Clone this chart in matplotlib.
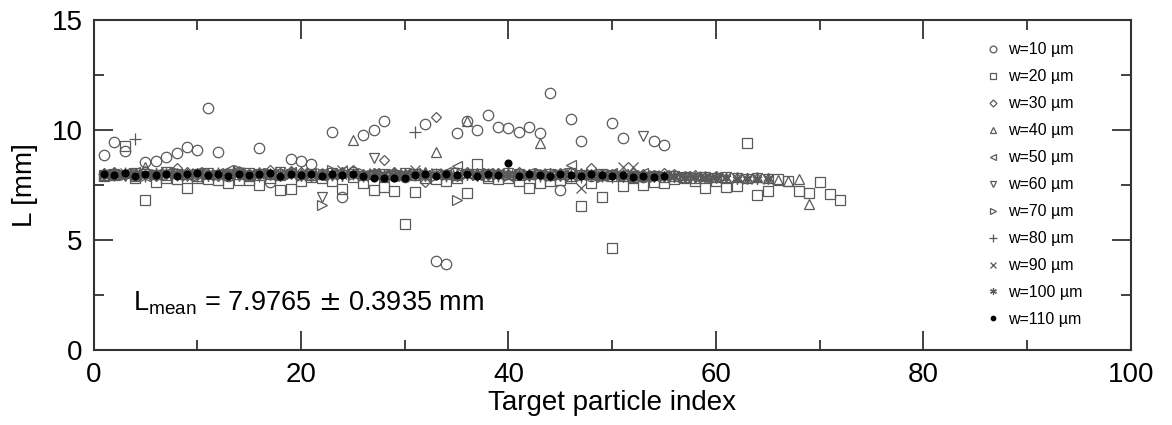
import numpy as np
import matplotlib
matplotlib.use("Agg")
import matplotlib.pyplot as plt

plt.rcParams['font.family'] = ['Liberation Sans', 'DejaVu Sans']

# L [mm] per target particle index, one list per width w
w10 = [8.85, 9.45, 9.05, 7.95, 8.55, 8.6, 8.75, 8.93, 9.23, 9.08, 10.97, 8.98, 7.9, 8.1, 7.95,
       9.16, 7.65, 8.0, 8.7, 8.6, 8.45, 8.0, 9.92, 6.97, 8.1, 9.76, 10.0, 10.4, 7.9, 7.85,
       7.95, 10.25, 4.05, 3.9, 9.85, 10.4, 10.0, 10.67, 10.14, 10.1, 9.92, 10.14, 9.87, 11.65, 7.27,
       10.47, 9.49, 7.9, 7.95, 10.29, 9.61, 7.9, 7.85, 9.49, 9.31]
w20 = [7.9, 7.95, 9.25, 7.8, 6.82, 7.65, 7.8, 7.75, 7.38, 7.8, 7.75, 7.73, 7.6, 7.73, 7.73,
       7.5, 7.8, 7.27, 7.3, 7.7, 7.85, 7.8, 7.7, 7.3, 7.85, 7.6, 7.27, 7.4, 7.22, 5.73,
       7.2, 7.8, 7.75, 7.7, 7.8, 7.12, 8.45, 7.8, 7.75, 7.8, 7.7, 7.35, 7.57, 7.7, 7.73,
       7.8, 6.55, 7.57, 6.94, 4.66, 7.45, 7.8, 7.5, 7.65, 7.57, 7.75, 7.8, 7.7, 7.35, 7.7,
       7.42, 7.45, 9.39, 7.05, 7.24, 7.75, 7.7, 7.23, 7.12, 7.62, 7.09, 6.82]
w30 = [8.05, 8.1, 7.95, 8.0, 8.15, 7.9, 8.0, 8.25, 8.1, 7.95, 8.0, 7.9, 8.05, 8.1, 8.0,
       7.95, 8.2, 8.05, 8.15, 8.1, 7.9, 8.0, 7.95, 8.1, 8.2, 8.0, 8.05, 8.63, 8.1, 7.95,
       8.0, 7.65, 10.6, 8.0, 7.9, 8.1, 8.0, 7.95, 8.05, 8.0, 8.1, 7.95, 8.0, 7.9, 8.05,
       8.1, 8.0, 8.25, 7.95, 8.0, 7.9, 8.05, 8.0, 7.95, 8.05, 8.0, 7.9, 7.95, 7.85, 7.9]
w40 = [7.95, 8.0, 8.05, 7.9, 8.3, 8.0, 7.95, 8.05, 8.0, 7.9, 8.0, 8.05, 7.95, 8.0, 7.9,
       8.1, 8.0, 7.95, 8.1, 8.0, 7.95, 8.0, 8.05, 8.1, 9.54, 7.95, 8.0, 7.9, 8.05, 8.0,
       7.95, 8.1, 9.0, 8.0, 7.95, 10.4, 8.0, 7.9, 8.05, 8.0, 7.95, 8.0, 9.39, 7.95, 8.0,
       7.9, 8.05, 8.0, 7.95, 7.9, 8.0, 7.85, 7.9, 7.95, 7.85, 7.9, 7.85, 7.8, 7.9, 7.85,
       7.8, 7.85, 7.8, 7.85, 7.8, 7.72, 7.7, 7.75, 6.64]
w50 = [8.0, 7.95, 8.05, 8.1, 7.9, 8.0, 8.05, 7.95, 8.0, 8.1, 7.95, 8.05, 8.2, 8.0, 7.9,
       8.05, 8.0, 7.95, 8.1, 8.0, 8.05, 7.9, 8.0, 8.15, 8.0, 7.95, 8.05, 8.0, 7.9, 8.0,
       8.05, 7.95, 8.0, 8.1, 8.36, 8.0, 7.95, 8.05, 8.0, 7.9, 8.0, 8.05, 7.95, 8.0, 8.05,
       8.4, 7.95, 8.0, 7.9, 8.05, 8.0, 7.95, 8.03, 7.9, 7.95, 7.85, 7.9, 7.85, 7.8, 7.85]
w60 = [7.95, 8.0, 7.9, 8.05, 8.0, 7.95, 8.1, 8.0, 7.9, 8.0, 8.05, 7.95, 8.0, 7.9, 8.05,
       8.0, 7.95, 8.1, 8.0, 7.9, 8.0, 6.95, 8.05, 7.95, 8.0, 7.9, 8.72, 8.0, 7.95, 8.05,
       8.0, 7.9, 8.0, 7.95, 8.05, 8.0, 7.9, 8.0, 7.95, 8.05, 8.0, 7.9, 7.95, 8.0, 7.9,
       8.05, 7.95, 7.9, 8.0, 7.95, 7.9, 7.85, 9.72, 7.9, 7.85, 7.9, 7.85, 7.8, 7.85, 7.8,
       7.85, 7.8, 7.75, 7.8, 7.75]
w70 = [7.9, 8.0, 7.95, 8.05, 7.9, 8.0, 7.95, 8.1, 8.0, 7.9, 8.05, 7.95, 8.0, 8.2, 7.9,
       8.0, 8.05, 7.95, 8.0, 7.9, 8.05, 6.6, 8.18, 8.0, 7.95, 8.05, 8.0, 7.9, 8.0, 7.95,
       8.05, 8.0, 7.9, 7.95, 6.82, 8.0, 7.95, 8.05, 8.0, 7.9, 8.0, 7.95, 8.05, 7.9, 8.0,
       7.95, 7.9, 8.0, 7.85, 7.95, 7.9, 7.85, 7.9, 7.85, 7.9]
w80 = [8.0, 7.95, 8.05, 9.6, 7.9, 8.0, 8.05, 7.95, 8.0, 7.9, 8.0, 8.05, 7.95, 8.1, 8.0,
       7.9, 8.0, 7.95, 8.05, 8.0, 7.9, 8.0, 7.95, 8.05, 8.0, 7.9, 8.0, 7.95, 8.05, 8.0,
       9.9, 7.95, 8.0, 7.9, 8.05, 8.0, 7.95, 8.0, 7.9, 8.05, 8.0, 7.95, 7.9, 8.0, 7.95,
       7.9, 7.85, 7.95, 7.9, 7.85]
w90 = [7.95, 8.0, 8.05, 7.9, 8.0, 7.95, 8.1, 8.0, 7.9, 8.05, 8.0, 7.95, 8.0, 8.1, 7.9,
       8.0, 7.95, 8.05, 8.0, 7.9, 8.0, 8.05, 7.95, 8.2, 8.0, 7.9, 8.05, 8.0, 7.95, 8.0,
       8.2, 7.95, 8.05, 8.0, 7.9, 8.0, 7.95, 8.05, 8.0, 7.9, 8.0, 7.95, 8.05, 8.0, 7.95,
       7.9, 7.35, 7.95, 7.9, 8.0, 8.3, 8.3, 7.9, 7.95, 7.85, 7.9, 7.85, 7.9, 7.85, 7.8,
       7.85, 7.8, 7.75, 7.8, 7.75]
w100 = [8.0, 8.05, 7.95, 8.0, 7.9, 8.05, 8.0, 7.95, 8.0, 8.05, 7.9, 8.0, 7.95, 8.05, 8.0,
        7.95, 8.0, 7.9, 8.05, 8.0, 7.95, 8.0, 8.05, 7.9, 8.0, 7.95, 8.05, 8.0, 7.9, 8.0,
        7.95, 8.05, 8.0, 7.9, 8.0, 7.95, 8.05, 8.0, 7.9, 8.0, 7.95, 8.0, 7.9, 8.05, 7.95,
        8.0, 7.9, 7.95, 7.9, 7.95, 7.85, 7.9, 7.95, 7.85, 7.9, 7.85, 7.8, 7.85, 7.8, 7.85,
        7.8, 7.75, 7.8, 7.75, 7.8]
w110 = [8.0, 7.95, 8.05, 7.9, 8.0, 7.95, 8.0, 7.9, 8.0, 8.05, 7.95, 8.0, 7.9, 8.0, 7.95,
        8.0, 8.05, 7.9, 8.0, 7.95, 8.0, 7.9, 8.0, 7.95, 8.0, 7.9, 7.8, 7.8, 7.8, 7.8,
        7.95, 8.0, 7.9, 8.0, 7.95, 8.0, 7.9, 8.0, 7.95, 8.48, 7.9, 8.0, 7.95, 7.9, 8.0,
        7.95, 7.9, 8.0, 7.95, 7.9, 7.95, 7.85, 7.9, 7.85, 7.9]

series = [w10, w20, w30, w40, w50, w60, w70, w80, w90, w100, w110]
labels = ['w=10 \u00b5m', 'w=20 \u00b5m', 'w=30 \u00b5m', 'w=40 \u00b5m', 'w=50 \u00b5m',
          'w=60 \u00b5m', 'w=70 \u00b5m', 'w=80 \u00b5m', 'w=90 \u00b5m', 'w=100 \u00b5m',
          'w=110 \u00b5m']
markers = ['o', 's', 'D', '^', '<', 'v', '>', '+', 'x', (6, 2, 0), 'o']
sizes = [7.5, 7, 5.5, 7.5, 7.5, 7.5, 7.5, 8.5, 6.5, 7.5, 4.8]

gray = '#5a5a5a'
fig = plt.figure(figsize=(11.72, 4.25), dpi=100)
ax = fig.add_axes([0.0798, 0.1753, 0.885, 0.7788])

for vals, lab, m, s in zip(series, labels, markers, sizes):
    x = np.arange(1, len(vals) + 1)
    if lab == 'w=110 \u00b5m':
        ax.plot(x, vals, linestyle='none', marker=m, ms=s, color='black', label=lab,
                zorder=3)
    else:
        ax.plot(x, vals, linestyle='none', marker=m, ms=s, mfc='none', mec=gray,
                mew=0.9, label=lab, zorder=2)

ax.set_xlim(0, 100)
ax.set_ylim(0, 15)
ax.set_xticks([0, 20, 40, 60, 80, 100])
ax.set_xticks([10, 30, 50, 70, 90], minor=True)
ax.set_yticks([0, 5, 10, 15])
ax.set_yticks([2.5, 7.5, 12.5], minor=True)
ax.tick_params(which='both', direction='in', top=True, right=True, colors='#333333',
               labelsize=20, labelcolor='black', width=1.3)
ax.tick_params(which='major', length=14, pad=8)
ax.tick_params(which='minor', length=7.5)
for sp in ax.spines.values():
    sp.set_linewidth(1.5)
    sp.set_color('#333333')

ax.set_xlabel('Target particle index', fontsize=20, labelpad=2)
ax.set_ylabel('L [mm]', fontsize=20, labelpad=10)

ax.text(0.038, 0.12, r'L$_{\mathregular{mean}}$ = 7.9765 $\pm$ 0.3935 mm',
        transform=ax.transAxes, fontsize=19.5, va='baseline')

ax.legend(loc='upper left', bbox_to_anchor=(0.849, 0.965), frameon=False, fontsize=11.5,
          markerscale=0.65, handlelength=1.0, handletextpad=0.45, labelspacing=0.75,
          borderpad=0.2, numpoints=1)

fig.savefig('out.png', dpi=100)
